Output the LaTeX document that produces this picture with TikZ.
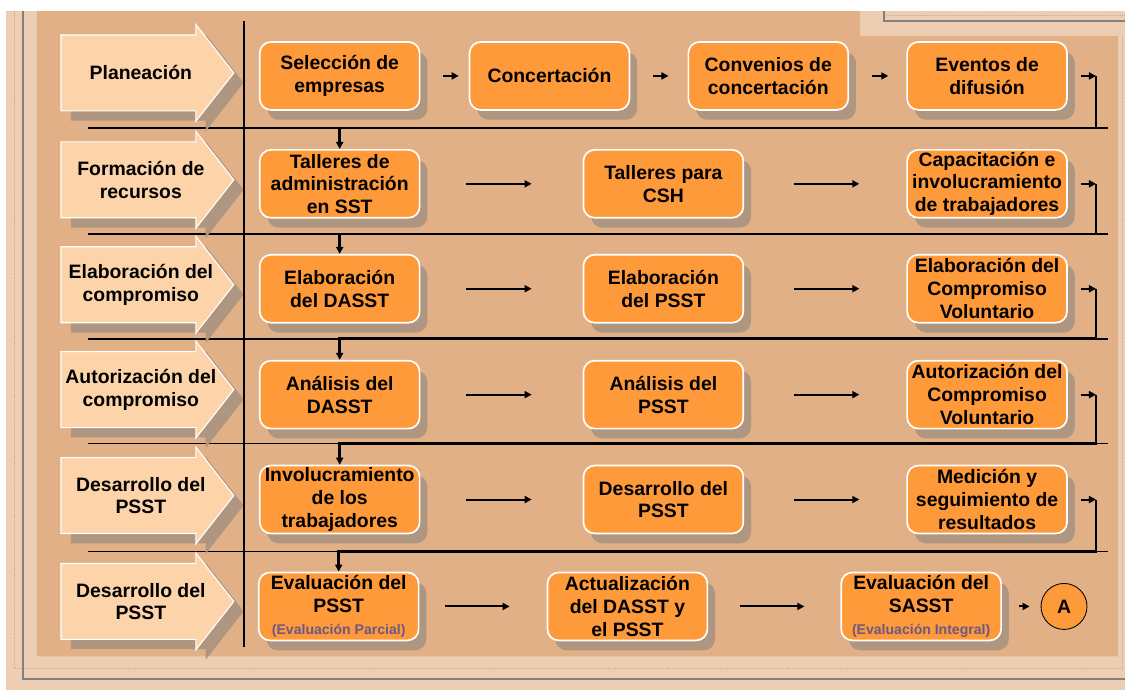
\documentclass[tikz,border=0pt]{standalone}
\usepackage{fontspec}
\setmainfont{Liberation Sans}
\usetikzlibrary{arrows.meta,shadows,calc}
\definecolor{outerc}{RGB}{238,206,178}
\definecolor{panelc}{RGB}{225,176,134}
\definecolor{lanec}{RGB}{253,212,169}
\definecolor{boxc}{RGB}{255,154,58}
\definecolor{shadowc}{RGB}{174,150,128}
\definecolor{framec}{RGB}{128,128,128}
\definecolor{dotc}{RGB}{200,170,145}
\definecolor{subc}{RGB}{107,88,134}
\begin{document}
\begin{tikzpicture}[x=0.025cm,y=-0.025cm,
  font=\bfseries\fontsize{13.8}{16.2}\selectfont,
  lane/.style={fill=lanec,draw=white,line width=0.8pt,
    drop shadow={shadow xshift=7pt,shadow yshift=-7pt,fill=shadowc,opacity=1}},
  lanetext/.style={align=center,inner sep=0pt},
  stepbox/.style={rectangle,rounded corners=8pt,draw=white,line width=1.2pt,fill=boxc,
    minimum width=4cm,minimum height=1.7cm,inner sep=1pt,align=center,
    drop shadow={shadow xshift=5.5pt,shadow yshift=-7pt,fill=shadowc,opacity=1}},
  endnode/.style={circle,draw=black,line width=0.6pt,fill=boxc,minimum size=1.15cm,inner sep=0pt},
  tip/.style={line width=1.4pt,-{Triangle[length=5pt,width=5pt]}},
  conn/.style={line width=1.7pt,-{Triangle[length=5pt,width=5pt]}},
  sep/.style={line width=1.2pt}]
% background
\fill[white] (0,0) rectangle (1126,691);
\fill[outerc] (6,11) rectangle (1126,691);
\draw[dotc,densely dotted] (14,11) -- (14,669) -- (1123,669) -- (1123,36);
\draw[framec,line width=1.5pt] (23,11) -- (23,680) -- (1126,680);
\fill[panelc] (37,11) -- (861,11) -- (861,36) -- (1119,36) -- (1119,657) -- (37,657) -- cycle;
\draw[dotc,densely dotted] (885,15) -- (1126,15);
\draw[framec,line width=1.5pt] (885,11) -- (885,21) -- (1126,21);
% separators
\draw[sep] (88,128) -- (1109,128);
\draw[sep] (88,234) -- (1109,234);
\draw[sep] (88,339) -- (1109,339);
\draw[sep] (88,444) -- (1109,444);
\draw[sep] (88,552) -- (1109,552);
% lanes
\foreach \c in {73,180,285,390,496,602}
  \filldraw[lane] (61,\c-38) -- (196,\c-38) -- (196,\c-48.5) -- (234,\c)
    -- (196,\c+48.5) -- (196,\c+38) -- (61,\c+38) -- cycle;
\node[lanetext] (l1) at (141,73) {Planeación};
\node[lanetext] (l2) at (141,180) {Formación de\\recursos};
\node[lanetext] (l3) at (141,285) {Elaboración del\\compromiso};
\node[lanetext] (l4) at (141,390) {Autorización del\\compromiso};
\node[lanetext] (l5) at (141,496) {Desarrollo del\\PSST};
\node[lanetext] (l6) at (141,602) {Desarrollo del\\PSST};
\draw[line width=1.7pt] (244,21) -- (244,648);
% steps
\node[stepbox] (sel) at (340,76) {Selección de\\empresas};
\node[stepbox] (conc) at (550,76) {Concertación};
\node[stepbox] (conv) at (769,76) {Convenios de\\concertación};
\node[stepbox] (even) at (988,76) {Eventos de\\difusión};
\node[stepbox] (tad) at (340,184) {Talleres de\\administración\\en SST};
\node[stepbox] (tcsh) at (664,184) {Talleres para\\CSH};
\node[stepbox] (cap) at (988,184) {Capacitación e\\involucramiento\\de trabajadores};
\node[stepbox] (edasst) at (340,289) {Elaboración\\del DASST};
\node[stepbox] (epsst) at (664,289) {Elaboración\\del PSST};
\node[stepbox] (ecv) at (988,289) {Elaboración del\\Compromiso\\Voluntario};
\node[stepbox] (adasst) at (340,395) {Análisis del\\DASST};
\node[stepbox] (apsst) at (664,395) {Análisis del\\PSST};
\node[stepbox] (acv) at (988,395) {Autorización del\\Compromiso\\Voluntario};
\node[stepbox] (inv) at (340,500) {Involucramiento\\de los\\trabajadores};
\node[stepbox] (dpsst) at (664,500) {Desarrollo del\\PSST};
\node[stepbox] (med) at (988,500) {Medición y\\seguimiento de\\resultados};
\node[stepbox] (evp) at (339,607) {Evaluación del\\PSST\\{\fontsize{10}{12}\selectfont\color{subc}(Evaluación Parcial)}};
\node[stepbox] (act) at (628,607) {Actualización\\del DASST y\\el PSST};
\node[stepbox] (evs) at (922,607) {Evaluación del\\SASST\\{\fontsize{10}{12}\selectfont\color{subc}(Evaluación Integral)}};
\node[endnode] (fin) at (1065,607) {A};
% arrows in rows
\draw[tip] ($(sel.east)+(23,0)$) -- ($(conc.west)+(-10,0)$);
\draw[tip] ($(conc.east)+(23,0)$) -- ($(conv.west)+(-19,0)$);
\draw[tip] ($(conv.east)+(23,0)$) -- ($(even.west)+(-18,0)$);
\draw[tip] ($(tad.east)+(46,0)$) -- ($(tcsh.west)+(-51,0)$);
\draw[tip] ($(tcsh.east)+(50,0)$) -- ($(cap.west)+(-47,0)$);
\draw[tip] ($(edasst.east)+(46,0)$) -- ($(epsst.west)+(-51,0)$);
\draw[tip] ($(epsst.east)+(50,0)$) -- ($(ecv.west)+(-47,0)$);
\draw[tip] ($(adasst.east)+(46,0)$) -- ($(apsst.west)+(-51,0)$);
\draw[tip] ($(apsst.east)+(50,0)$) -- ($(acv.west)+(-47,0)$);
\draw[tip] ($(inv.east)+(46,0)$) -- ($(dpsst.west)+(-51,0)$);
\draw[tip] ($(dpsst.east)+(50,0)$) -- ($(med.west)+(-47,0)$);
\draw[tip] ($(evp.east)+(26,0)$) -- ($(act.west)+(-37,0)$);
\draw[tip] ($(act.east)+(32,0)$) -- ($(evs.west)+(-36,0)$);
\draw[tip] ($(evs.east)+(17,0)$) -- ($(fin.west)+(-11,0)$);
% links between rows
\coordinate (k1) at (1097,128);
\coordinate (k2) at (1097,234);
\coordinate (k3) at (1097,339);
\coordinate (k4) at (1097,444);
\coordinate (k5) at (1097,552);
\draw[tip] ($(even.east)+(13,0)$) -- (even.east -| k1);
\draw[conn] (even.east -| k1) -- (k1) -| (tad.north);
\draw[tip] ($(cap.east)+(13,0)$) -- (cap.east -| k2);
\draw[conn] (cap.east -| k2) -- (k2) -| (edasst.north);
\draw[tip] ($(ecv.east)+(13,0)$) -- (ecv.east -| k3);
\draw[conn] (ecv.east -| k3) -- (k3) -| (adasst.north);
\draw[tip] ($(acv.east)+(13,0)$) -- (acv.east -| k4);
\draw[conn] (acv.east -| k4) -- (k4) -| (inv.north);
\draw[tip] ($(med.east)+(13,0)$) -- (med.east -| k5);
\draw[conn] (med.east -| k5) -- (k5) -| (evp.north);
\end{tikzpicture}
\end{document}
